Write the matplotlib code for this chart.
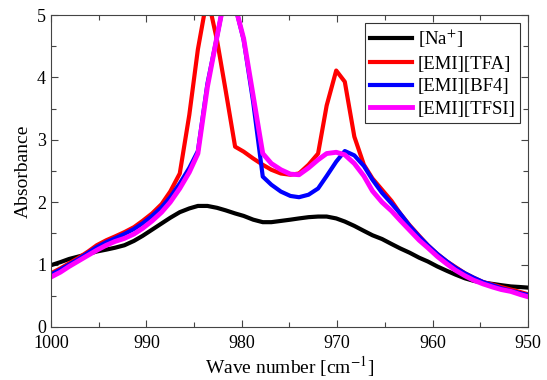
import matplotlib
matplotlib.use('Agg')
import matplotlib.pyplot as plt
from matplotlib.ticker import MultipleLocator

plt.rcParams['font.family'] = ['Liberation Serif', 'DejaVu Serif']
plt.rcParams['mathtext.fontset'] = 'stix'

# wave numbers [cm-1]
wn = [1000.0, 999.0, 998.1, 997.1, 996.1, 995.2, 994.2, 993.3, 992.3, 991.3,
      990.4, 989.4, 988.4, 987.5, 986.5, 985.5, 984.6, 983.6, 982.6, 981.7,
      980.7, 979.8, 978.8, 977.8, 976.9, 975.9, 974.9, 974.0, 973.0, 972.0,
      971.1, 970.1, 969.2, 968.2, 967.2, 966.3, 965.3, 964.3, 963.4, 962.4,
      961.4, 960.5, 959.5, 958.5, 957.6, 956.6, 955.7, 954.7, 953.7, 952.8,
      951.8, 950.8, 949.9]

na = [0.99, 1.04, 1.09, 1.13, 1.17, 1.21, 1.24, 1.27, 1.31, 1.38,
      1.46, 1.56, 1.66, 1.75, 1.84, 1.90, 1.94, 1.94, 1.91, 1.87,
      1.82, 1.78, 1.72, 1.68, 1.68, 1.70, 1.72, 1.74, 1.76, 1.77,
      1.77, 1.74, 1.69, 1.62, 1.54, 1.47, 1.41, 1.33, 1.26, 1.19,
      1.11, 1.05, 0.97, 0.90, 0.84, 0.78, 0.74, 0.71, 0.69, 0.67,
      0.65, 0.64, 0.63]

tfa = [0.86, 0.94, 1.02, 1.11, 1.21, 1.31, 1.39, 1.45, 1.52, 1.60,
       1.70, 1.82, 1.97, 2.17, 2.46, 3.40, 4.45, 5.30, 4.60, 3.80,
       2.89, 2.81, 2.70, 2.60, 2.52, 2.46, 2.44, 2.46, 2.60, 2.78,
       3.55, 4.11, 3.93, 3.05, 2.60, 2.38, 2.20, 2.02, 1.82, 1.63,
       1.46, 1.31, 1.17, 1.05, 0.96, 0.86, 0.79, 0.72, 0.68, 0.64,
       0.60, 0.56, 0.52]

bf4 = [0.84, 0.92, 1.00, 1.09, 1.19, 1.28, 1.36, 1.42, 1.49, 1.57,
       1.66, 1.78, 1.92, 2.08, 2.30, 2.55, 2.82, 3.90, 4.65, 5.35,
       5.15, 4.60, 3.60, 2.41, 2.28, 2.17, 2.10, 2.08, 2.12, 2.22,
       2.42, 2.65, 2.82, 2.75, 2.58, 2.36, 2.15, 1.98, 1.82, 1.62,
       1.45, 1.31, 1.17, 1.05, 0.95, 0.86, 0.79, 0.72, 0.67, 0.62,
       0.58, 0.54, 0.51]

tfsi = [0.80, 0.88, 0.97, 1.06, 1.15, 1.23, 1.31, 1.37, 1.42, 1.49,
        1.58, 1.70, 1.84, 2.00, 2.22, 2.48, 2.78, 3.85, 4.65, 5.35,
        5.15, 4.62, 3.70, 2.78, 2.62, 2.52, 2.45, 2.44, 2.55, 2.68,
        2.78, 2.80, 2.76, 2.62, 2.42, 2.18, 2.00, 1.86, 1.71, 1.55,
        1.39, 1.27, 1.13, 1.01, 0.91, 0.82, 0.75, 0.69, 0.64, 0.60,
        0.57, 0.52, 0.48]

fig = plt.figure(figsize=(5.47, 3.80), dpi=100)
ax = fig.add_axes([0.0932, 0.1395, 0.872, 0.821])

ax.plot(wn, na, color='black', lw=3, label='[Na$^{+}$]')
ax.plot(wn, tfa, color='red', lw=3, label='[EMI][TFA]')
ax.plot(wn, bf4, color='blue', lw=3, label='[EMI][BF4]')
ax.plot(wn, tfsi, color='magenta', lw=3.5, label='[EMI][TFSI]')

ax.set_xlim(1000, 950)
ax.set_ylim(0, 5)
ax.xaxis.set_major_locator(MultipleLocator(10))
ax.xaxis.set_minor_locator(MultipleLocator(5))
ax.yaxis.set_major_locator(MultipleLocator(1))
ax.yaxis.set_minor_locator(MultipleLocator(0.5))
ax.tick_params(which='both', direction='in', top=True, right=True,
               labelsize=13, color='#444444', width=0.8)
ax.tick_params(which='major', length=5)
ax.tick_params(which='minor', length=3.3)
ax.tick_params(axis='x', pad=6)
for s in ax.spines.values():
    s.set_color('#444444')
    s.set_linewidth(0.8)

ax.set_xlabel('Wave number [cm$^{-1}$]', fontsize=14, labelpad=1)
ax.set_ylabel('Absorbance', fontsize=14, labelpad=4)

leg = ax.legend(loc='upper right', fontsize=13.5, fancybox=False,
                framealpha=1, edgecolor='#333333', handlelength=2.25,
                borderpad=0.25, labelspacing=0.3, handletextpad=0.3,
                borderaxespad=0.4)
leg.get_frame().set_linewidth(0.8)

fig.savefig('out.png', dpi=100)
